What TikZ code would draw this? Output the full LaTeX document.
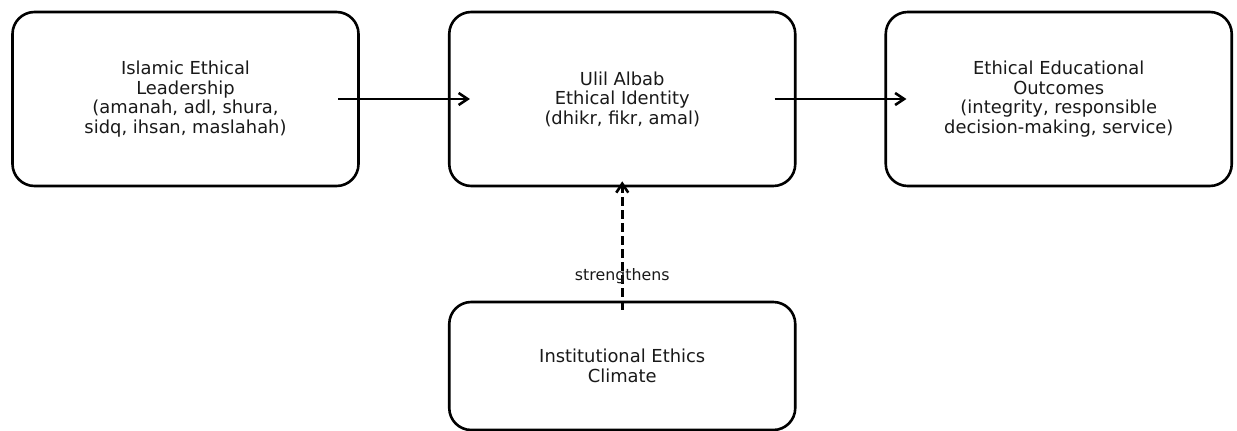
\documentclass[tikz,border=0pt]{standalone}
\usepackage{fontspec}
\setmainfont{DejaVu Sans}
\usetikzlibrary{arrows.meta}
\begin{document}
\begin{tikzpicture}[x=1pt,y=-1pt,
  box/.style={draw=black,line width=2.6pt,rounded corners=22pt,minimum width=346pt,minimum height=174pt,align=center,inner sep=0pt,font=\fontsize{17.9}{19.4}\selectfont,text=black!90},
  conn/.style={line width=2.6pt,-{Straight Barb[length=9pt,width=12pt]}},
  lbl/.style={font=\fontsize{15.8}{18}\selectfont,text=black!90,inner sep=0pt}]
\useasboundingbox (0,0) rectangle (1237,431);
\begin{scope}
\clip (0,0) rectangle (1237,431);
\node[box] (A) at (185.5,99) {Islamic Ethical\\Leadership\\(amanah, adl, shura,\\sidq, ihsan, maslahah)};
\node[box] (B) at (622.25,99) {Ulil Albab\\Ethical Identity\\(dhikr, fikr, amal)};
\node[box] (C) at (1058.75,99) {Ethical Educational\\Outcomes\\(integrity, responsible\\decision-making, service)};
\node[box,minimum height=128pt] (D) at (622.25,366) {Institutional Ethics\\Climate};
\draw[conn] ([xshift=-21.5pt]A.east) -- ([xshift=22pt]B.west);
\draw[conn] ([xshift=-22pt]B.east) -- ([xshift=22pt]C.west);
\draw[conn,dash pattern=on 9pt off 4pt] ([yshift=-9pt]D.north) -- ([yshift=6pt]B.south);
\node[lbl] (L) at (622.25,276) {strengthens};
\end{scope}
\end{tikzpicture}
\end{document}
